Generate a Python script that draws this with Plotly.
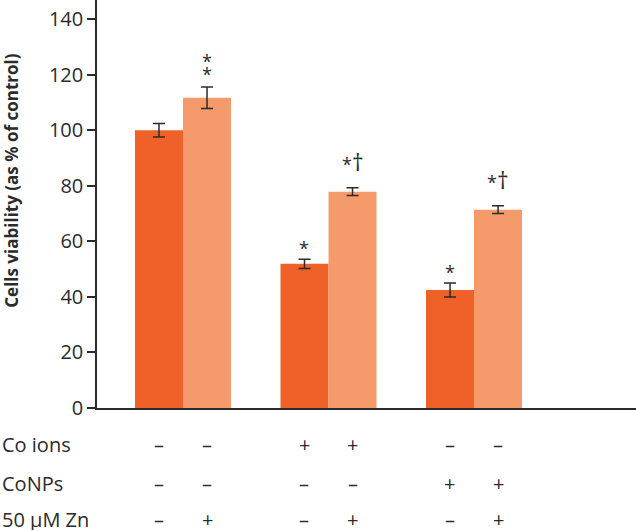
import plotly.graph_objects as go

# data
groups = [0, 1, 2]
no_zn = [100, 51.9, 42.5]
no_zn_err = [2.4, 1.7, 2.5]
with_zn = [111.7, 77.9, 71.4]
with_zn_err = [3.9, 1.4, 1.4]
no_zn_marks = [[], ["*"], ["*"]]
with_zn_marks = [["*", "*"], ["*†"], ["*†"]]

row_labels = ["Co ions", "CoNPs", "50 µM Zn"]
row_signs = [
    ["–", "–", "+", "+", "–", "–"],
    ["–", "–", "–", "–", "+", "+"],
    ["–", "+", "–", "+", "–", "+"],
]

DARK = "#EF6128"
LIGHT = "#F59A6A"
INK = "#2b2b2b"
FONT = "Open Sans"


def star_text(marks):
    # stacked marks share one text box; line pitch follows the small base font
    parts = []
    for m in marks:
        m = m.replace("†", "<span style='font-size:23px'>†</span>")
        parts.append("<span style='font-size:18px'>" + m + "</span>")
    return "<br>".join(parts)


fig = go.Figure()
fig.add_trace(go.Bar(x=groups, y=no_zn, marker=dict(color=DARK, line=dict(width=0)),
                     error_y=dict(type="data", array=no_zn_err, color=INK, thickness=1.5, width=6),
                     offsetgroup="a", showlegend=False))
fig.add_trace(go.Bar(x=groups, y=with_zn, marker=dict(color=LIGHT, line=dict(width=0)),
                     error_y=dict(type="data", array=with_zn_err, color=INK, thickness=1.5, width=6),
                     offsetgroup="b", showlegend=False))

off = 1 / 6
annotations = []
# significance marks over the bars
for vals, errs, marks, dx in [(no_zn, no_zn_err, no_zn_marks, -off),
                              (with_zn, with_zn_err, with_zn_marks, off)]:
    for g, v, e, m in zip(groups, vals, errs, marks):
        if not m:
            continue
        if any("†" in t for t in m):
            ann = dict(text=star_text(m), yshift=8, font=dict(family=FONT, size=18, color=INK))
        elif len(m) > 1:
            ann = dict(text=star_text(m), yshift=-1, font=dict(family=FONT, size=10, color=INK))
        else:
            ann = dict(text=star_text(m), yshift=-3, font=dict(family=FONT, size=10, color=INK))
        ann.update(x=g + dx, y=v + e, xref="x", yref="y", showarrow=False, yanchor="bottom")
        annotations.append(ann)

# treatment table under the axis
row_y = [-0.088, -0.184, -0.272]
bar_x = [g + s for g in groups for s in (-off, off)]
for lab, signs, ry in zip(row_labels, row_signs, row_y):
    annotations.append(dict(x=-97 / 539, y=ry, xref="paper", yref="paper", text=lab,
                            showarrow=False, xanchor="left", yanchor="middle", height=22,
                            font=dict(family=FONT, size=20, color=INK)))
    for bx, s in zip(bar_x, signs):
        annotations.append(dict(x=bx, y=ry, xref="x", yref="paper", text=s,
                                showarrow=False, xanchor="center", yanchor="middle", height=22,
                                font=dict(family=FONT, size=20, color=INK)))

# y axis title
annotations.append(dict(x=-0.1577, y=0.557, xref="paper", yref="paper",
                        text="<b>Cells viability (as % of control)</b>", textangle=-90,
                        showarrow=False, xanchor="center", yanchor="middle",
                        font=dict(family=FONT, size=17, color=INK)))

fig.update_layout(
    width=636, height=531,
    margin=dict(l=97, r=0, t=0, b=123),
    plot_bgcolor="white", paper_bgcolor="white",
    barmode="group", bargap=0.34, bargroupgap=0,
    font=dict(family=FONT, size=20, color=INK),
    annotations=annotations,
)
fig.update_xaxes(range=[-0.591, 3.113], showline=True, linecolor=INK, linewidth=1.5,
                 showticklabels=False, ticks="", showgrid=False, zeroline=False)
fig.update_yaxes(range=[0, 146.9], showline=True, linecolor=INK, linewidth=1.5,
                 tickvals=[0, 20, 40, 60, 80, 100, 120, 140], ticks="outside",
                 ticklen=8, tickwidth=1.5, tickcolor=INK, showgrid=False, zeroline=False,
                 ticksuffix="\u00a0",
                 tickfont=dict(family=FONT, size=20, color=INK))

# drop the default page margin so the figure sits at the window's corner
fig.write_html("out.html", config={"displayModeBar": False},
               post_script="document.body.style.margin='0px';")
